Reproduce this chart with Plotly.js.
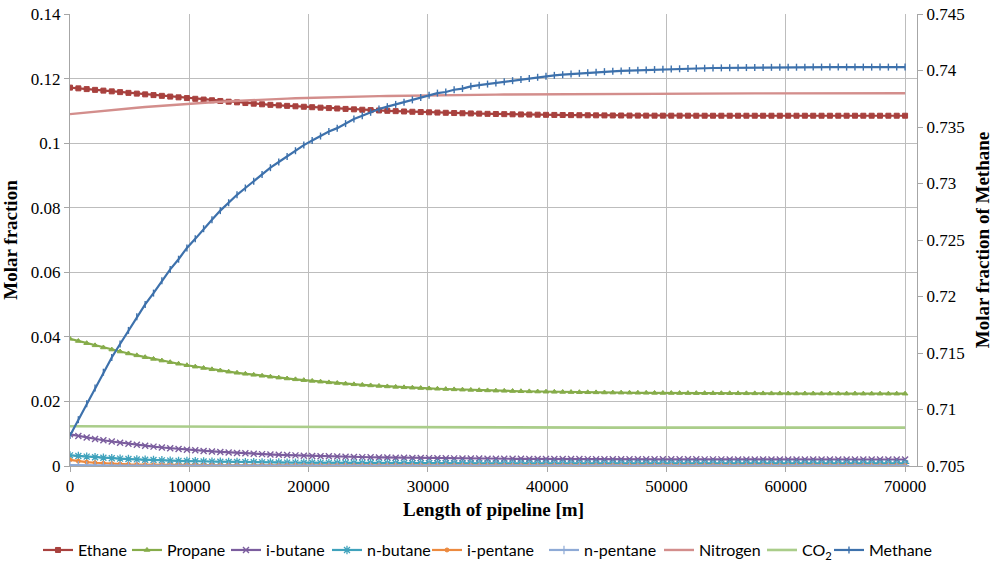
<!DOCTYPE html>
<html>
<head>
<meta charset="utf-8">
<script src="https://cdn.plot.ly/plotly-3.0.1.min.js"></script>
<style>
  html, body { margin: 0; padding: 0; background: #ffffff; }
  #chart { width: 997px; height: 564px; }
</style>
</head>
<body>
<div id="chart"></div>
<script>
// Position along the pipeline [m]
const lengthM = [
  0,700,1400,2100,2800,3500,4200,4900,5600,6300,
  7000,7700,8400,9100,9800,10500,11200,11900,12600,13300,
  14000,14700,15400,16100,16800,17500,18200,18900,19600,20300,
  21000,21700,22400,23100,23800,24500,25200,25900,26600,27300,
  28000,28700,29400,30100,30800,31500,32200,32900,33600,34300,
  35000,35700,36400,37100,37800,38500,39200,39900,40600,41300,
  42000,42700,43400,44100,44800,45500,46200,46900,47600,48300,
  49000,49700,50400,51100,51800,52500,53200,53900,54600,55300,
  56000,56700,57400,58100,58800,59500,60200,60900,61600,62300,
  63000,63700,64400,65100,65800,66500,67200,67900,68600,69300,
  70000
];

// Molar fractions (left axis)
const ethane = [
  0.11720,0.11697,0.11674,0.11650,0.11627,0.11604,0.11580,0.11557,0.11534,0.11511,
  0.11488,0.11465,0.11442,0.11419,0.11396,0.11373,0.11350,0.11328,0.11306,0.11284,
  0.11263,0.11242,0.11222,0.11203,0.11186,0.11170,0.11155,0.11141,0.11127,0.11113,
  0.11099,0.11086,0.11073,0.11060,0.11047,0.11035,0.11023,0.11012,0.11001,0.10991,
  0.10981,0.10972,0.10963,0.10955,0.10947,0.10940,0.10933,0.10926,0.10920,0.10914,
  0.10908,0.10903,0.10898,0.10893,0.10889,0.10885,0.10881,0.10877,0.10874,0.10871,
  0.10868,0.10865,0.10863,0.10861,0.10859,0.10857,0.10856,0.10854,0.10853,0.10852,
  0.10851,0.10851,0.10850,0.10850,0.10850,0.10849,0.10849,0.10849,0.10849,0.10849,
  0.10849,0.10849,0.10849,0.10849,0.10849,0.10849,0.10849,0.10849,0.10849,0.10849,
  0.10849,0.10849,0.10849,0.10849,0.10849,0.10849,0.10849,0.10849,0.10849,0.10849,
  0.10849
];
const propane = [
  0.03940,0.03872,0.03804,0.03737,0.03671,0.03607,0.03545,0.03485,0.03427,0.03371,
  0.03317,0.03265,0.03215,0.03167,0.03121,0.03077,0.03035,0.02995,0.02957,0.02921,
  0.02887,0.02855,0.02824,0.02794,0.02765,0.02737,0.02710,0.02684,0.02659,0.02635,
  0.02612,0.02590,0.02569,0.02549,0.02530,0.02512,0.02495,0.02479,0.02464,0.02450,
  0.02437,0.02425,0.02413,0.02402,0.02392,0.02382,0.02373,0.02364,0.02356,0.02348,
  0.02341,0.02334,0.02328,0.02322,0.02316,0.02311,0.02306,0.02301,0.02297,0.02293,
  0.02289,0.02286,0.02283,0.02280,0.02277,0.02274,0.02272,0.02270,0.02268,0.02266,
  0.02264,0.02262,0.02260,0.02259,0.02258,0.02257,0.02256,0.02255,0.02254,0.02253,
  0.02252,0.02251,0.02250,0.02249,0.02248,0.02247,0.02246,0.02245,0.02245,0.02244,
  0.02244,0.02243,0.02243,0.02242,0.02242,0.02241,0.02241,0.02240,0.02240,0.02240,
  0.02240
];
const iButane = [
  0.00980,0.00930,0.00883,0.00839,0.00797,0.00759,0.00723,0.00689,0.00657,0.00628,
  0.00600,0.00574,0.00550,0.00528,0.00506,0.00487,0.00468,0.00451,0.00435,0.00419,
  0.00405,0.00392,0.00380,0.00368,0.00357,0.00347,0.00338,0.00329,0.00320,0.00313,
  0.00305,0.00299,0.00292,0.00286,0.00281,0.00275,0.00271,0.00266,0.00262,0.00258,
  0.00254,0.00251,0.00247,0.00244,0.00241,0.00239,0.00236,0.00234,0.00232,0.00230,
  0.00228,0.00226,0.00225,0.00223,0.00222,0.00220,0.00219,0.00218,0.00217,0.00216,
  0.00215,0.00214,0.00213,0.00212,0.00211,0.00211,0.00210,0.00209,0.00209,0.00208,
  0.00208,0.00207,0.00207,0.00206,0.00206,0.00206,0.00205,0.00205,0.00205,0.00204,
  0.00204,0.00204,0.00204,0.00203,0.00203,0.00203,0.00203,0.00203,0.00203,0.00202,
  0.00202,0.00202,0.00202,0.00202,0.00202,0.00202,0.00202,0.00202,0.00202,0.00202,
  0.00202
];
const nButane = [
  0.00330,0.00309,0.00290,0.00272,0.00256,0.00242,0.00228,0.00216,0.00204,0.00194,
  0.00184,0.00176,0.00168,0.00160,0.00154,0.00147,0.00142,0.00137,0.00132,0.00127,
  0.00123,0.00120,0.00116,0.00113,0.00111,0.00108,0.00106,0.00104,0.00102,0.00100,
  0.00098,0.00097,0.00095,0.00094,0.00093,0.00092,0.00091,0.00090,0.00089,0.00088,
  0.00088,0.00087,0.00086,0.00086,0.00085,0.00085,0.00084,0.00084,0.00084,0.00083,
  0.00083,0.00083,0.00082,0.00082,0.00082,0.00082,0.00082,0.00081,0.00081,0.00081,
  0.00081,0.00081,0.00081,0.00081,0.00081,0.00081,0.00081,0.00081,0.00081,0.00081,
  0.00081,0.00081,0.00081,0.00081,0.00081,0.00081,0.00081,0.00081,0.00081,0.00081,
  0.00080,0.00080,0.00080,0.00080,0.00080,0.00080,0.00080,0.00080,0.00080,0.00080,
  0.00080,0.00080,0.00080,0.00080,0.00080,0.00080,0.00080,0.00080,0.00080,0.00080,
  0.00080
];
const iPentane = [
  0.00190,0.00150,0.00122,0.00100,0.00084,0.00071,0.00061,0.00053,0.00047,0.00042,
  0.00038,0.00035,0.00032,0.00030,0.00028,0.00027,0.00026,0.00025,0.00024,0.00023,
  0.00023,0.00022,0.00022,0.00022,0.00021,0.00021,0.00021,0.00021,0.00020,0.00020,
  0.00020,0.00020,0.00020,0.00020,0.00020,0.00020,0.00020,0.00020,0.00020,0.00020,
  0.00020,0.00020,0.00020,0.00020,0.00020,0.00020,0.00020,0.00020,0.00020,0.00020,
  0.00020,0.00020,0.00020,0.00020,0.00020,0.00020,0.00020,0.00020,0.00020,0.00020,
  0.00020,0.00020,0.00020,0.00020,0.00020,0.00020,0.00020,0.00020,0.00020,0.00020,
  0.00020,0.00020,0.00020,0.00020,0.00020,0.00020,0.00020,0.00020,0.00020,0.00020,
  0.00020,0.00020,0.00020,0.00020,0.00020,0.00020,0.00020,0.00020,0.00020,0.00020,
  0.00020,0.00020,0.00020,0.00020,0.00020,0.00020,0.00020,0.00020,0.00020,0.00020,
  0.00020
];
const nPentane = [
  0.00025,0.00020,0.00017,0.00015,0.00014,0.00013,0.00012,0.00012,0.00011,0.00011,
  0.00010,0.00010,0.00010,0.00010,0.00010,0.00010,0.00010,0.00010,0.00010,0.00010,
  0.00010,0.00010,0.00010,0.00010,0.00010,0.00010,0.00010,0.00010,0.00010,0.00010,
  0.00010,0.00010,0.00010,0.00010,0.00010,0.00010,0.00010,0.00010,0.00010,0.00010,
  0.00010,0.00010,0.00010,0.00010,0.00010,0.00010,0.00010,0.00010,0.00010,0.00010,
  0.00010,0.00010,0.00010,0.00010,0.00010,0.00010,0.00010,0.00010,0.00010,0.00010,
  0.00010,0.00010,0.00010,0.00010,0.00010,0.00010,0.00010,0.00010,0.00010,0.00010,
  0.00010,0.00010,0.00010,0.00010,0.00010,0.00010,0.00010,0.00010,0.00010,0.00010,
  0.00010,0.00010,0.00010,0.00010,0.00010,0.00010,0.00010,0.00010,0.00010,0.00010,
  0.00010,0.00010,0.00010,0.00010,0.00010,0.00010,0.00010,0.00010,0.00010,0.00010,
  0.00010
];
const nitrogen = [
  0.10900,0.10927,0.10953,0.10979,0.11004,0.11028,0.11052,0.11075,0.11097,0.11118,
  0.11139,0.11159,0.11179,0.11197,0.11215,0.11233,0.11250,0.11266,0.11281,0.11296,
  0.11310,0.11323,0.11336,0.11348,0.11359,0.11370,0.11380,0.11389,0.11398,0.11406,
  0.11414,0.11421,0.11428,0.11434,0.11440,0.11446,0.11451,0.11456,0.11461,0.11466,
  0.11470,0.11474,0.11478,0.11482,0.11485,0.11488,0.11491,0.11494,0.11497,0.11500,
  0.11502,0.11504,0.11506,0.11508,0.11510,0.11512,0.11514,0.11516,0.11518,0.11519,
  0.11521,0.11522,0.11524,0.11525,0.11526,0.11527,0.11528,0.11529,0.11530,0.11531,
  0.11532,0.11533,0.11534,0.11535,0.11535,0.11536,0.11537,0.11537,0.11538,0.11538,
  0.11539,0.11539,0.11540,0.11540,0.11541,0.11541,0.11542,0.11542,0.11542,0.11543,
  0.11543,0.11543,0.11544,0.11544,0.11544,0.11544,0.11545,0.11545,0.11545,0.11545,
  0.11545
];
const co2 = [
  0.01230,0.01229,0.01228,0.01227,0.01226,0.01225,0.01224,0.01223,0.01222,0.01221,
  0.01220,0.01219,0.01218,0.01217,0.01216,0.01215,0.01214,0.01213,0.01212,0.01211,
  0.01210,0.01209,0.01208,0.01207,0.01206,0.01205,0.01204,0.01203,0.01202,0.01201,
  0.01200,0.01200,0.01199,0.01199,0.01198,0.01198,0.01197,0.01197,0.01196,0.01196,
  0.01195,0.01195,0.01195,0.01194,0.01194,0.01194,0.01193,0.01193,0.01193,0.01192,
  0.01192,0.01192,0.01192,0.01191,0.01191,0.01191,0.01191,0.01191,0.01190,0.01190,
  0.01190,0.01190,0.01190,0.01190,0.01190,0.01190,0.01190,0.01190,0.01190,0.01190,
  0.01190,0.01190,0.01190,0.01190,0.01190,0.01190,0.01190,0.01190,0.01190,0.01190,
  0.01190,0.01190,0.01190,0.01190,0.01190,0.01190,0.01190,0.01190,0.01190,0.01190,
  0.01190,0.01190,0.01190,0.01190,0.01190,0.01190,0.01190,0.01190,0.01190,0.01190,
  0.01190
];

// Methane (right axis)
const methane = [
  0.7077,0.7091,0.7105,0.7119,0.7133,0.7146,0.7158,0.7170,0.7182,0.7193,
  0.7203,0.7214,0.7224,0.7233,0.7243,0.7251,0.7260,0.7268,0.7276,0.7283,
  0.7290,0.7296,0.7302,0.7308,0.7314,0.7319,0.7324,0.7329,0.7334,0.7338,
  0.7342,0.7346,0.7349,0.7353,0.7357,0.7360,0.7363,0.7366,0.7368,0.7370,
  0.7372,0.7374,0.7376,0.7378,0.7380,0.7381,0.7383,0.7384,0.7386,0.7387,
  0.7388,0.7389,0.7390,0.7391,0.7392,0.7393,0.7394,0.7395,0.73957,0.73963,
  0.73969,0.73975,0.7398,0.73985,0.7399,0.73993,0.73996,0.73999,0.74002,0.74005,
  0.74008,0.7401,0.74013,0.74015,0.74017,0.74019,0.7402,0.74022,0.74023,0.74024,
  0.74025,0.74026,0.74027,0.74027,0.74028,0.74028,0.74029,0.74029,0.74029,0.7403,
  0.7403,0.7403,0.7403,0.7403,0.7403,0.7403,0.7403,0.7403,0.7403,0.7403,
  0.7403
];

const serif = '"Liberation Serif", "Times New Roman", serif';
const sans = 'Lato, "Liberation Sans", sans-serif';

function series(name, y, color, symbol, size, opts) {
  opts = opts || {};
  const t = {
    type: 'scatter',
    x: lengthM,
    y: y,
    name: name,
    mode: symbol ? 'lines+markers' : 'lines',
    line: { color: color, width: opts.width || 2.2 },
    yaxis: opts.yaxis || 'y',
    legendwidth: opts.lw
  };
  if (symbol) {
    t.marker = { symbol: symbol, size: size, color: color,
                 line: { color: color, width: opts.mlw || 1 } };
  }
  return t;
}

const traces = [
  series('Ethane', ethane, '#A8413E', 'square', 5, { lw: 44 }),
  series('Propane', propane, '#86AC4A', 'triangle-up', 5, { lw: 54 }),
  series('i-butane', iButane, '#7B5D9E', 'x-thin-open', 6, { mlw: 1.4, lw: 56 }),
  series('n-butane', nButane, '#3FA2BC', 'asterisk-open', 7, { mlw: 1.3, lw: 55 }),
  series('i-pentane', iPentane, '#EC8A3F', 'circle', 4, { lw: 72 }),
  series('n-pentane', nPentane, '#8EAAD6', 'cross-thin-open', 6, { mlw: 1.2, lw: 70 }),
  series('Nitrogen', nitrogen, '#D38E8C', null, 0, { width: 2.4, lw: 58 }),
  series('CO<sub>2</sub>', co2, '#AACD8A', null, 0, { width: 2.6, lw: 22 }),
  series('Methane', methane, '#3D71AC', 'line-ns-open', 5, { yaxis: 'y2', mlw: 1.4, lw: 72 })
];

const axisCommon = {
  ticks: 'outside',
  ticklen: 5,
  tickcolor: '#A6A6A6',
  zeroline: false,
  showline: true,
  linecolor: '#A6A6A6',
  linewidth: 1,
  automargin: false,
  tickfont: { family: serif, size: 17, color: '#000' }
};

const layout = {
  width: 997,
  height: 564,
  margin: { l: 70, r: 80, t: 14, b: 98, autoexpand: false },
  font: { family: serif, size: 17, color: '#000' },
  paper_bgcolor: '#ffffff',
  plot_bgcolor: '#ffffff',
  showlegend: true,
  xaxis: Object.assign({}, axisCommon, {
    range: [0, 71000],
    tick0: 0,
    dtick: 10000,
    tickformat: 'd',
    showgrid: true,
    gridcolor: '#BDBDBD',
    gridwidth: 1,
    title: { text: '<b>Length of pipeline [m]</b>', font: { family: serif, size: 19, color: '#000' }, standoff: 7 }
  }),
  yaxis: Object.assign({}, axisCommon, {
    range: [0, 0.14],
    tick0: 0,
    dtick: 0.02,
    showgrid: true,
    gridcolor: '#BDBDBD',
    gridwidth: 1,
    title: { text: '<b>Molar fraction</b>', font: { family: serif, size: 19, color: '#000' }, standoff: 8 }
  }),
  yaxis2: Object.assign({}, axisCommon, {
    overlaying: 'y',
    side: 'right',
    range: [0.705, 0.745],
    tick0: 0.705,
    dtick: 0.005,
    showgrid: false,
    title: { text: '<b>Molar fraction of Methane</b>', font: { family: serif, size: 19, color: '#000' }, standoff: 12 }
  }),
  legend: {
    orientation: 'h',
    xref: 'paper',
    x: -0.0378,
    xanchor: 'left',
    yref: 'paper',
    y: -0.186,
    yanchor: 'middle',
    font: { family: sans, size: 16, color: '#000' },
    itemwidth: 30,
    bgcolor: 'rgba(0,0,0,0)'
  }
};

Plotly.newPlot('chart', traces, layout, { displayModeBar: false, staticPlot: true });
</script>
</body>
</html>
